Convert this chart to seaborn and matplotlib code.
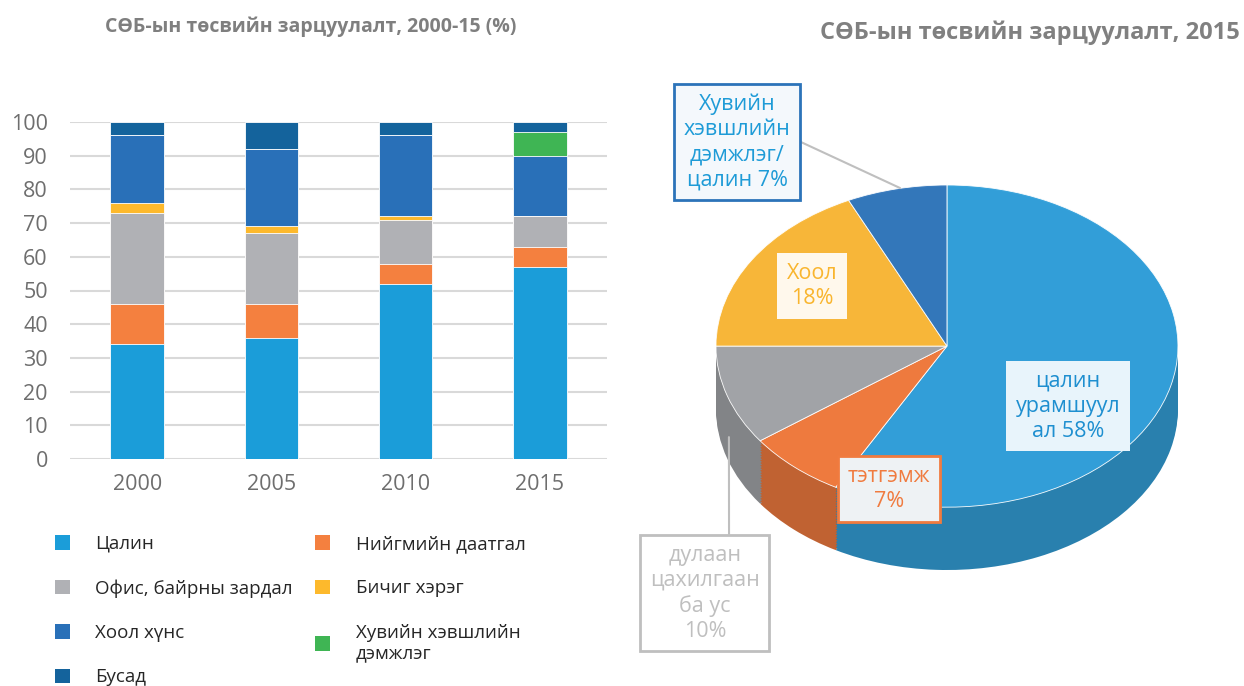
import numpy as np
import pandas as pd
import matplotlib.pyplot as plt
import seaborn as sns
from matplotlib.patches import Patch
from matplotlib.colors import to_rgb

# Bar chart data (share of budget, %)
years = ["2000", "2005", "2010", "2015"]
categories = ["Цалин", "Нийгмийн даатгал", "Офис, байрны зардал", "Бичиг хэрэг",
              "Хоол хүнс", "Хувийн хэвшлийн дэмжлэг", "Бусад"]
salary = [34, 36, 52, 57]
insurance = [12, 10, 6, 6]
office = [27, 21, 13, 9]
stationery = [3, 2, 1, 0]
food = [20, 23, 24, 18]
private = [0, 0, 0, 7]
other = [4, 8, 4, 3]
bar_colors = ["#1b9dd9", "#f4803f", "#b0b1b5", "#fdb92c", "#2970b8", "#3fb554", "#14639c"]

# Pie chart data, 2015
pie_labels = ["цалин\nурамшуул\nал ", "тэтгэмж\n", "дулаан\nцахилгаан\nба ус\n", "Хоол\n",
              "Хувийн\nхэвшлийн\nдэмжлэг/\nцалин "]
pie_values = [58, 7, 10, 18, 7]
pie_colors = ["#33a0da", "#f07b3f", "#a3a5a9", "#f9b83a", "#3478bc"]

sns.set_theme(style="white")
plt.rcParams["font.family"] = ["Open Sans", "DejaVu Sans"]

fig = plt.figure(figsize=(12.44, 6.86), dpi=100)

# ---- stacked bars
df = pd.DataFrame({"year": years, **dict(zip(categories,
                  [salary, insurance, office, stationery, food, private, other]))})
ax = fig.add_axes([70 / 1244, 1 - 459 / 686, 537 / 1244, 337 / 686])
cum = df[categories].cumsum(axis=1)
for cat, col in reversed(list(zip(categories, bar_colors))):
    sns.barplot(x=df["year"], y=cum[cat], color=col, saturation=1, width=0.4,
                edgecolor="white", linewidth=0.6, ax=ax)
ax.set_ylim(0, 100)
ax.set_xlim(-0.5, 3.5)
ax.set_yticks(range(0, 101, 10))
ax.yaxis.grid(True, color="#d9d9d9", linewidth=1.5)
ax.set_axisbelow(True)
sns.despine(ax=ax, left=True, bottom=True)
ax.set_xlabel("")
ax.set_ylabel("")
ax.tick_params(axis="both", length=0, labelsize=15.5, labelcolor="#6e6e6e")
ax.tick_params(axis="x", pad=11)
ax.tick_params(axis="y", pad=16)

fig.text(311 / 1244, 1 - 27 / 686, "СӨБ-ын төсвийн зарцуулалт, 2000-15 (%)",
         ha="center", va="center", weight="bold", color="#7f7f7f", fontsize=14)

# legend, column-major order
order = [0, 2, 4, 6, 1, 3, 5]
handles = []
for i in order:
    lab = categories[i]
    if i == 5:
        lab = "Хувийн хэвшлийн\nдэмжлэг"
    handles.append(Patch(facecolor=bar_colors[i], edgecolor="none", label=lab))
fig.legend(handles=handles, ncol=2, loc="upper left",
           bbox_to_anchor=(55 / 1244, 1 - 535 / 686), frameon=False,
           fontsize=13.5, handlelength=0.8, handleheight=0.8, handletextpad=1.35,
           labelspacing=1.4, columnspacing=1.2, labelcolor="#262626",
           borderaxespad=0, borderpad=0)

# ---- pseudo 3D pie
ax2 = fig.add_axes([640 / 1244, 0, 604 / 1244, 646 / 686])
dark = [tuple(c * 0.8 for c in to_rgb(col)) for col in pie_colors]
for d in np.linspace(-0.39, -0.01, 25):
    ax2.pie(pie_values, colors=dark, startangle=90, counterclock=False,
            center=(0, d), radius=1, wedgeprops=dict(linewidth=0))
ax2.pie(pie_values, colors=pie_colors, startangle=90, counterclock=False,
        center=(0, 0), radius=1,
        wedgeprops=dict(edgecolor="#ffffff", linewidth=0.6, alpha=0.97))
ax2.set_aspect("auto")
ax2.set_xlim(-1.329, 1.286)
ax2.set_ylim(-2.11, 1.90)
ax2.axis("off")

def box(fc, ec, lw):
    return dict(boxstyle="square,pad=0.45", fc=fc, ec=ec, lw=lw)

txt = [f"{lab}{v}%" for lab, v in zip(pie_labels, pie_values)]
ax2.text(0.524, -0.373, txt[0], ha="center", va="center", fontsize=15.5,
         color="#1e8fd0", linespacing=1.25, bbox=box("#e8f4fb", "none", 0))
ax2.text(-0.251, -0.888, txt[1], ha="center", va="center", fontsize=15.5,
         color="#f07b3f", linespacing=1.25, bbox=box("#eef2f4", "#f07b3f", 2))
ax2.annotate(txt[2], xy=(-0.944, -0.565), xytext=(-1.048, -1.534),
             ha="center", va="center", fontsize=15.5, color="#bfbfbf", linespacing=1.25,
             bbox=box("#ffffff", "#bfbfbf", 2),
             arrowprops=dict(arrowstyle="-", color="#bfbfbf", lw=1.5, shrinkA=0, shrinkB=0,
                             relpos=(0.72, 1.0)))
ax2.text(-0.584, 0.373, txt[3], ha="center", va="center", fontsize=15.5,
         color="#f9b52e", linespacing=1.25, bbox=box("#fff8ec", "none", 0))
ax2.annotate(txt[4], xy=(-0.203, 0.981), xytext=(-0.909, 1.267),
             ha="center", va="center", fontsize=15.5, color="#1e9bd7", linespacing=1.25,
             bbox=box("#f4f8fc", "#2c73b9", 2),
             arrowprops=dict(arrowstyle="-", color="#bfbfbf", lw=1.5, shrinkA=0, shrinkB=0,
                             relpos=(1.0, 0.55)))

fig.text(1240 / 1244, 1 - 33 / 686, "СӨБ-ын төсвийн зарцуулалт, 2015",
         ha="right", va="center", weight="bold", color="#808080", fontsize=17)

fig.savefig("out.png", dpi=100)
